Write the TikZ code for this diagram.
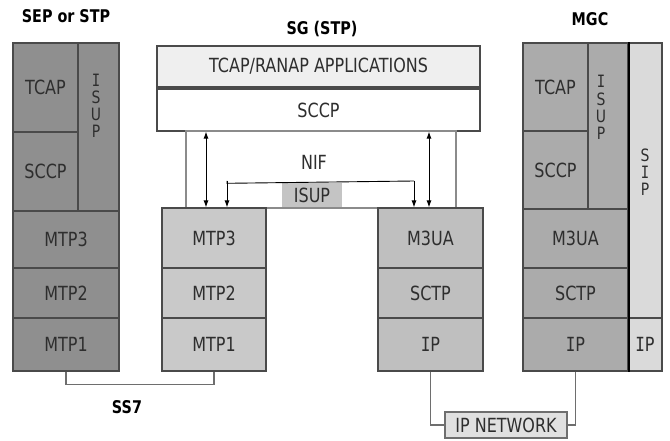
\documentclass[tikz,border=0pt]{standalone}
\usepackage{fontspec}
\setmainfont{DejaVu Sans}[FakeStretch=0.82]
\newfontfamily\monof{DejaVu Sans Mono}[FakeStretch=0.82]
\usetikzlibrary{arrows.meta}

\definecolor{edge}{HTML}{4A4A4A}
\definecolor{txt}{HTML}{2E2E2E}
\definecolor{wire}{HTML}{6E6E6E}
\definecolor{sepfill}{HTML}{8F8F8F}
\definecolor{sgfill}{HTML}{C9C9C9}
\definecolor{uafill}{HTML}{BFBFBF}
\definecolor{mgcfill}{HTML}{ABABAB}
\definecolor{sipfill}{HTML}{DADADA}
\definecolor{appfill}{HTML}{EFEFEF}
\definecolor{isupfill}{HTML}{C4C4C4}
\definecolor{netfill}{HTML}{E0E0E0}

\begin{document}
\begin{tikzpicture}[x=1pt,y=-1pt,
  box/.style={draw=edge, line width=1.2pt, inner sep=0pt, text=txt,
    font=\fontsize{19.5}{19.5}\selectfont},
  vtext/.style={inner sep=0pt, text=txt, align=center,
    font=\fontsize{17}{17.2}\selectfont},
  title/.style={inner sep=0pt, font=\fontsize{17.5}{17.5}\selectfont\bfseries},
  link/.style={draw=wire, line width=1.3pt},
  sig/.style={draw=black, line width=0.9pt,
    {Latex[length=7pt,width=5pt]}-{Latex[length=7pt,width=5pt]}},
  sigone/.style={draw=black, line width=0.9pt, -{Latex[length=7pt,width=5pt]}}
]
\useasboundingbox (0,0) rectangle (670,441);

% ---------- SEP or STP ----------
\node[title] (septitle) at (66,16) {SEP or STP};
\node[box, fill=sepfill, minimum width=65pt, minimum height=89pt] (septcap) at (45.5,87.5) {TCAP};
\node[box, fill=sepfill, minimum width=65pt, minimum height=79pt] (sepsccp) at (45.5,171.5) {SCCP};
\node[box, fill=sepfill, minimum width=41pt, minimum height=168pt] (sepisup) at (98.5,127) {};
\node[vtext] (sepisuptxt) at (96,106) {{\monof I}\\S\\U\\P};
\node[box, fill=sepfill, minimum width=106pt, minimum height=57pt] (sepmtp3) at (66,239.5) {MTP3};
\node[box, fill=sepfill, minimum width=106pt, minimum height=50pt] (sepmtp2) at (66,293) {MTP2};
\node[box, fill=sepfill, minimum width=106pt, minimum height=53pt] (sepmtp1) at (66,344.5) {MTP1};

% ---------- SG (STP) ----------
\node[title] (sgtitle) at (322,29) {SG (STP)};
\node[box, fill=appfill, minimum width=323pt, minimum height=41pt] (sgapp) at (318.5,66.5) {TCAP/RANAP APPLICATIONS};
\node[box, fill=white, minimum width=323pt, minimum height=42pt] (sgsccp) at (318.5,110) {SCCP};
\node[box, draw=wire!80, fill=white, minimum width=270pt, minimum height=77pt] (nif) at (321,169.5) {};
\node[inner sep=0pt, text=txt, font=\fontsize{19.5}{19.5}\selectfont] (niftxt) at (314,162) {NIF};
\node[fill=isupfill, inner sep=0pt, text=txt, minimum width=60pt, minimum height=24pt,
  font=\fontsize{19.5}{19.5}\selectfont] (sgisup) at (312,195.5) {ISUP};

\node[box, fill=sgfill, minimum width=104pt, minimum height=60pt] (sgmtp3) at (214,238) {MTP3};
\node[box, fill=sgfill, minimum width=104pt, minimum height=50pt] (sgmtp2) at (214,293) {MTP2};
\node[box, fill=sgfill, minimum width=104pt, minimum height=53pt] (sgmtp1) at (214,344.5) {MTP1};

\node[box, fill=uafill, minimum width=105pt, minimum height=60pt] (sgm3ua) at (430.5,238) {M3UA};
\node[box, fill=uafill, minimum width=105pt, minimum height=50pt] (sgsctp) at (430.5,293) {SCTP};
\node[box, fill=uafill, minimum width=105pt, minimum height=53pt] (sgip) at (430.5,344.5) {{\monof I}P};

% signalling paths inside the SG
\coordinate (isupl) at (227,181);
\coordinate (isupr) at (414,181);
\draw[sig] (sgsccp.south -| 206,0) -- (sgmtp3.north -| 206,0);
\draw[sig] (sgsccp.south -| 429,0) -- (sgm3ua.north -| 429,0);
\draw[sigone] (isupl) -- (isupl |- sgmtp3.north);
\draw[sigone] (isupr) -- (isupr |- sgm3ua.north);
\draw[draw=black, line width=0.9pt] (isupl) -- (sgisup.north -| isupl) -- (isupr);

% ---------- MGC ----------
\node[title] (mgctitle) at (590,19) {MGC};
\node[box, fill=mgcfill, minimum width=65pt, minimum height=88pt] (mgctcap) at (555.5,87) {TCAP};
\node[box, fill=mgcfill, minimum width=65pt, minimum height=78pt] (mgcsccp) at (555.5,170) {SCCP};
\node[box, fill=mgcfill, minimum width=40pt, minimum height=166pt] (mgcisup) at (608,126) {};
\node[vtext] (mgcisuptxt) at (601,107.5) {{\monof I}\\S\\U\\P};
\node[box, fill=mgcfill, minimum width=105pt, minimum height=59pt] (mgcm3ua) at (575.5,238.5) {M3UA};
\node[box, fill=mgcfill, minimum width=105pt, minimum height=50pt] (mgcsctp) at (575.5,293) {SCTP};
\node[box, fill=mgcfill, minimum width=105pt, minimum height=53pt] (mgcip) at (575.5,344.5) {{\monof I}P};
\node[box, fill=sipfill, minimum width=34pt, minimum height=275pt] (mgcsip) at (645,180.5) {};
\node[vtext] (mgcsiptxt) at (645,172) {S\\{\monof I}\\P};
\node[box, fill=sipfill, minimum width=34pt, minimum height=53pt] (mgcsipip) at (645,344.5) {{\monof I}P};
\draw[black, line width=2pt] (mgcisup.north east) -- (mgcip.south east);

% ---------- links ----------
\draw[link] (sepmtp1.south) -- ++(0,13) -| (sgmtp1.south);
\node[title] (ss7) at (127,407) {SS7};

\node[box, draw=wire, fill=netfill, minimum width=122pt, minimum height=26pt] (ipnet) at (506,425) {IP NETWORK};
\draw[link] (sgip.south) |- (ipnet.west);
\draw[link] (mgcip.south) |- (ipnet.east);
\end{tikzpicture}
\end{document}
